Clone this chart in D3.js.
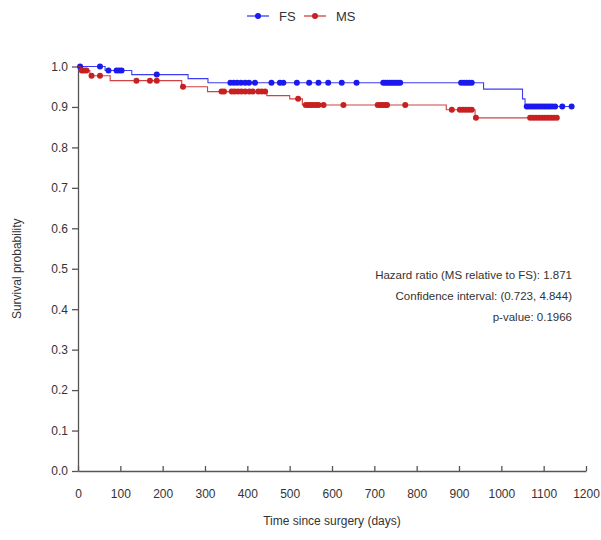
<!DOCTYPE html>
<html>
<head>
<meta charset="utf-8">
<script src="https://cdn.jsdelivr.net/npm/d3@7/dist/d3.min.js"></script>
<style>
  body { margin: 0; background: #fff; }
  text { font-family: "Liberation Sans", Arial, sans-serif; fill: #333; }
</style>
</head>
<body>
<svg id="chart" width="601" height="540"></svg>
<script>
// Kaplan–Meier estimates by group: step times (days) and survival after each step
const groups = ["FS", "MS"];
const groupColors = ["#1a1aee", "#c82020"];

const fsStepTimes = [0, 64, 127, 260, 307, 958, 1050, 1056];
const fsSurvival  = [1.0, 0.99, 0.98, 0.97, 0.96, 0.944, 0.92, 0.901];
const fsCensored  = [5, 52, 72, 91, 97, 103, 186,
  360, 368, 376, 385, 395, 404, 418, 457, 477, 485, 517, 546, 568,
  591, 623, 658, 721, 726, 731, 736, 741, 746, 751, 756, 761,
  905, 912, 918, 924, 930,
  1060, 1066, 1072, 1078, 1084, 1090, 1096, 1102, 1108, 1114, 1120, 1127, 1144, 1166];
const fsEndTime = 1166;

const msStepTimes = [0, 5, 28, 76, 245, 306, 446, 500, 530, 870, 938];
const msSurvival  = [1.0, 0.99, 0.977, 0.965, 0.95, 0.938, 0.928, 0.92, 0.905, 0.893, 0.873];
const msCensored  = [9, 14, 20, 32, 52, 138, 170, 186, 248,
  339, 345, 363, 370, 378, 386, 395, 405, 413, 426, 434, 442,
  520, 538, 544, 550, 556, 562, 568, 580, 627, 708, 714, 720, 726, 730, 773,
  883, 902, 909, 916, 923, 930, 940,
  1068, 1075, 1082, 1089, 1096, 1103, 1110, 1117, 1124, 1131];
const msEndTime = 1131;

const xTicks = [0, 100, 200, 300, 400, 500, 600, 700, 800, 900, 1000, 1100, 1200];
const yTicks = [0, 0.1, 0.2, 0.3, 0.4, 0.5, 0.6, 0.7, 0.8, 0.9, 1.0];

const statLines = [
  "Hazard ratio (MS relative to FS): 1.871",
  "Confidence interval: (0.723, 4.844)",
  "p-value: 0.1966"
];

const xTitle = "Time since surgery (days)";
const yTitle = "Survival probability";

const series = [
  { name: groups[0], color: groupColors[0], times: fsStepTimes, surv: fsSurvival, censored: fsCensored, end: fsEndTime },
  { name: groups[1], color: groupColors[1], times: msStepTimes, surv: msSurvival, censored: msCensored, end: msEndTime }
];

const svg = d3.select("#chart");
const margin = { left: 78, right: 15, top: 66.5, bottom: 69 };
const W = 601, H = 540;

const x = d3.scaleLinear().domain([0, 1200]).range([margin.left, W - margin.right]);
const y = d3.scaleLinear().domain([0, 1]).range([H - margin.bottom, margin.top]);

const axisColor = "#555";

// y axis: outward ticks on the left
const gy = svg.append("g")
  .attr("transform", `translate(${margin.left},0)`)
  .call(d3.axisLeft(y).tickValues(yTicks).tickFormat(d3.format(".1f"))
    .tickSizeInner(6).tickSizeOuter(0).tickPadding(4));
gy.selectAll("text").attr("font-size", 12).style("fill", "#333");

// x axis: short ticks pointing up into the plot
const gx = svg.append("g")
  .attr("transform", `translate(0,${y(0)})`)
  .call(d3.axisBottom(x).tickValues(xTicks).tickFormat(d3.format("d"))
    .tickSizeInner(-5).tickSizeOuter(0).tickPadding(18));
gx.selectAll("text").attr("font-size", 12).style("fill", "#333");

svg.selectAll(".domain, .tick line").attr("stroke", axisColor).attr("stroke-width", 1.3);

// survival at a time point, read from the step function
function survAt(s, t) {
  const i = d3.bisectRight(s.times, t) - 1;
  return s.surv[Math.max(0, i)];
}

const stepLine = d3.line().curve(d3.curveStepAfter).x(d => x(d[0])).y(d => y(d[1]));

series.forEach(s => {
  const pts = s.times.map((t, i) => [t, s.surv[i]]);
  pts.push([s.end, s.surv[s.surv.length - 1]]);
  svg.append("path")
    .attr("d", stepLine(pts))
    .attr("fill", "none")
    .attr("stroke", s.color)
    .attr("stroke-width", 1.1)
    .attr("stroke-opacity", 0.85);
  svg.append("g").selectAll("circle")
    .data(s.censored)
    .join("circle")
    .attr("cx", d => x(d))
    .attr("cy", d => y(survAt(s, d)))
    .attr("r", 3)
    .attr("fill", s.color);
});

// legend across the top
const legend = svg.append("g").attr("transform", "translate(247,16)");
const legendX = [0, 57];
series.forEach((s, i) => {
  const g = legend.append("g").attr("transform", `translate(${legendX[i]},0)`);
  g.append("line").attr("x1", 0).attr("x2", 22).attr("y1", 0).attr("y2", 0)
    .attr("stroke", s.color).attr("stroke-width", 1.1);
  g.append("circle").attr("cx", 11).attr("cy", 0).attr("r", 3).attr("fill", s.color);
  g.append("text").attr("x", 32).attr("y", 0).attr("dy", "0.35em")
    .attr("font-size", 13).text(s.name);
});

// statistics block, right aligned
svg.append("g").selectAll("text")
  .data(statLines)
  .join("text")
  .attr("x", 572)
  .attr("y", (d, i) => 275 + i * 21)
  .attr("dy", "0.35em")
  .attr("text-anchor", "end")
  .attr("font-size", 11.5)
  .text(d => d);

// axis titles
svg.append("text")
  .attr("x", (x(0) + x(1200)) / 2)
  .attr("y", 521)
  .attr("dy", "0.35em")
  .attr("text-anchor", "middle")
  .attr("font-size", 12)
  .text(xTitle);

svg.append("text")
  .attr("transform", `translate(17,${(y(0) + y(1)) / 2}) rotate(-90)`)
  .attr("dy", "0.35em")
  .attr("text-anchor", "middle")
  .attr("font-size", 12)
  .text(yTitle);
</script>
</body>
</html>
